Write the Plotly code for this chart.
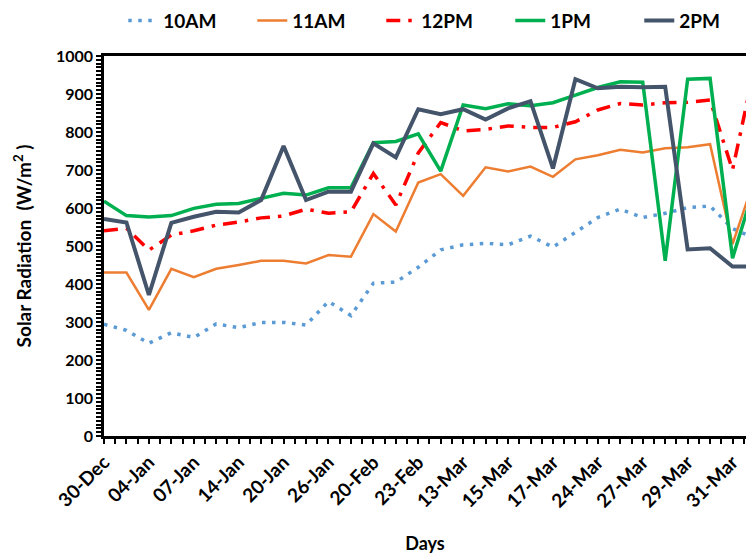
import plotly.graph_objects as go

# Measurement days (one label every second reading)
day_labels = ["30-Dec", "04-Jan", "07-Jan", "14-Jan", "20-Jan", "26-Jan", "20-Feb",
              "23-Feb", "13-Mar", "15-Mar", "17-Mar", "24-Mar", "27-Mar", "29-Mar", "31-Mar"]

# Solar radiation (W/m²) per reading, by hour of day
rad_10am = [294, 278, 244, 272, 259, 295, 285, 299, 299, 292, 354, 317, 402, 405, 444,
            490, 503, 507, 503, 526, 497, 537, 575, 597, 575, 586, 601, 605, 546, 520]
rad_11am = [430, 430, 332, 440, 418, 440, 450, 461, 461, 454, 476, 472, 584, 538, 667,
            689, 632, 707, 696, 709, 682, 728, 739, 753, 746, 757, 760, 768, 505, 680]
rad_12pm = [540, 547, 489, 529, 540, 555, 563, 574, 579, 597, 586, 590, 691, 608, 745,
            825, 803, 807, 816, 812, 812, 827, 858, 875, 871, 877, 878, 884, 700, 975]
rad_1pm = [618, 580, 576, 580, 599, 610, 612, 625, 639, 634, 653, 653, 772, 775, 795,
           697, 871, 861, 874, 869, 877, 897, 917, 932, 931, 461, 939, 941, 468, 660]
rad_2pm = [571, 562, 371, 561, 577, 590, 588, 621, 763, 621, 643, 643, 770, 733, 860,
           847, 860, 833, 862, 881, 704, 939, 915, 919, 918, 919, 491, 494, 446, 446]

idx = list(range(len(rad_10am)))
label_pos = [2 * i for i in range(len(day_labels))]

FONT = "Lato, Arial, sans-serif"

series = [
    ("10AM", rad_10am, "#5B9BD5", 3.5, "3.5px,6.5px"),
    ("11AM", rad_11am, "#ED7D31", 2.5, "solid"),
    ("12PM", rad_12pm, "#FF0000", 3.5, "14px,8px,3.5px,8px"),
    ("1PM", rad_1pm, "#00B050", 3.5, "solid"),
    ("2PM", rad_2pm, "#44546A", 4, "solid"),
]

fig = go.Figure()
for name, vals, color, width, dash in series:
    fig.add_trace(go.Scatter(
        x=idx, y=vals, name=name, mode="lines",
        line=dict(color=color, width=width, dash=dash),
    ))

fig.update_layout(
    width=746, height=554,
    margin=dict(l=104, r=0, t=56, b=118, autoexpand=False),
    paper_bgcolor="white", plot_bgcolor="white",
    font=dict(family=FONT, color="black", size=15),
    showlegend=True,
    legend=dict(
        orientation="h", x=0.03, xanchor="left", y=1.093, yanchor="middle",
        font=dict(family=FONT, size=19, color="black", weight="bold"),
        entrywidth=84, itemwidth=30, bgcolor="rgba(0,0,0,0)",
    ),
)

fig.update_xaxes(
    range=[0, 28.6],
    tickmode="array", tickvals=label_pos, ticktext=day_labels,
    tickangle=-45,
    tickfont=dict(family=FONT, size=19, color="black", weight="bold"),
    showgrid=False, zeroline=False,
    showline=True, linecolor="black", linewidth=2.5, mirror=True,
    ticks="outside", ticklen=5, tickwidth=1.5, tickcolor="black",
    minor=dict(dtick=0.5, tick0=0, ticks="outside", ticklen=5, tickwidth=1.5,
               tickcolor="black", showgrid=False),
    title=dict(text="Days", standoff=27,
               font=dict(family=FONT, size=18, color="black", weight="bold")),
)

fig.update_yaxes(
    range=[0, 1000], dtick=100, tick0=0,
    tickfont=dict(family=FONT, size=16, color="black", weight="bold"),
    showgrid=False, zeroline=False,
    showline=True, linecolor="black", linewidth=2.5, mirror=False,
    ticks="outside", ticklen=5, tickwidth=1.5, tickcolor="black",
    minor=dict(dtick=10, ticks="outside", ticklen=5, tickwidth=1.5,
               tickcolor="black", showgrid=False),
    title=dict(text="Solar Radiation  (W/m<sup>2</sup> )", standoff=20,
               font=dict(family=FONT, size=19, color="black", weight="bold")),
)

fig.write_html("out.html")
